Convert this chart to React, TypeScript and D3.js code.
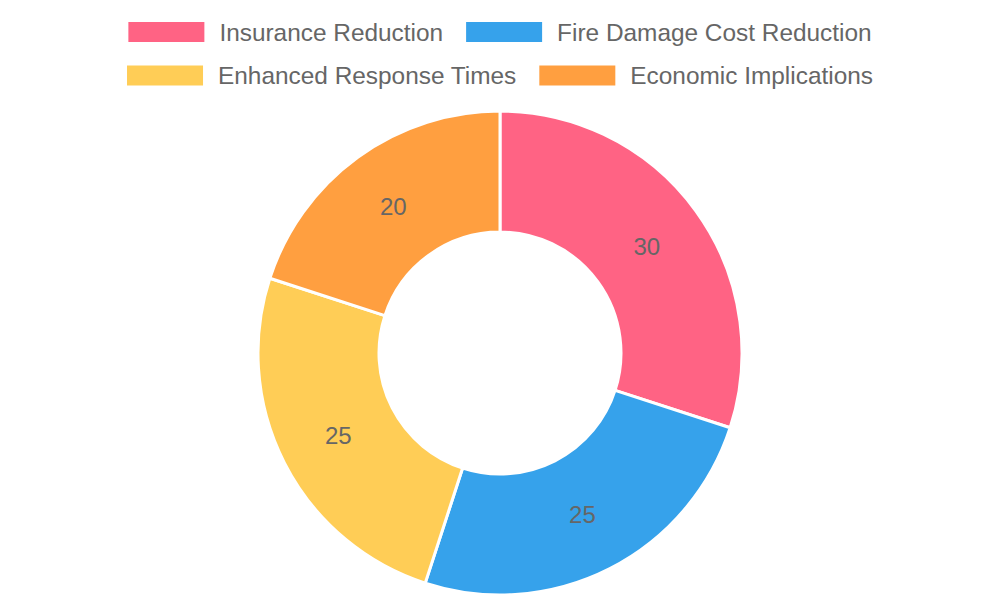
import { useRef, useEffect } from 'react'
import * as d3 from 'd3'

const categories = ['Insurance Reduction', 'Fire Damage Cost Reduction', 'Enhanced Response Times', 'Economic Implications']
const values = [30, 25, 25, 20]
const colors = ['#FF6384', '#36A2EB', '#FFCD56', '#FF9F40']

const W = 1000, H = 600

function App() {
  const ref = useRef<SVGSVGElement>(null)

  useEffect(() => {
    const svg = d3.select(ref.current)
    svg.selectAll('*').remove()
    const font = '"Liberation Sans", Arial, Helvetica, sans-serif'

    // legend: two rows, each centred
    const rows = [[0, 1], [2, 3]]
    const rowY = [32, 75.5]
    const boxW = 76, boxH = 20, gap = 15, pad = 23
    const legend = svg.append('g')
    rows.forEach((row, ri) => {
      const items = row.map(i => {
        const g = legend.append('g')
        g.append('rect').attr('width', boxW).attr('height', boxH).attr('y', rowY[ri] - boxH / 2)
          .attr('fill', colors[i])
        const t = g.append('text').attr('x', boxW + gap).attr('y', rowY[ri]).attr('dy', '0.35em')
          .style('font', `24.4px ${font}`).attr('fill', '#666').text(categories[i])
        const tw = (t.node() as SVGTextElement).getComputedTextLength()
        return { g, w: boxW + gap + tw }
      })
      const total = d3.sum(items, d => d.w) + pad * (items.length - 1)
      let x = (W - total) / 2
      items.forEach(it => {
        it.g.attr('transform', `translate(${x},0)`)
        x += it.w + pad
      })
    })

    // doughnut
    const cx = 500, cy = 353, outer = 242, inner = 121
    const pie = d3.pie<number>().sort(null).value(d => d)
    const arc = d3.arc<d3.PieArcDatum<number>>().innerRadius(inner).outerRadius(outer)
    const g = svg.append('g').attr('transform', `translate(${cx},${cy})`)
    const arcs = pie(values)
    g.selectAll('path').data(arcs).enter().append('path')
      .attr('d', arc)
      .attr('fill', (d, i) => colors[i])
      .attr('stroke', '#fff').attr('stroke-width', 3).attr('stroke-linejoin', 'round')
    g.selectAll('text.val').data(arcs).enter().append('text')
      .attr('class', 'val')
      .attr('transform', d => `translate(${arc.centroid(d)})`)
      .attr('text-anchor', 'middle').attr('dy', '0.35em')
      .style('font', `24px ${font}`).attr('fill', '#666')
      .text(d => d.data)
  }, [])

  return (
    <svg ref={ref} width={W} height={H} style={{ position: 'absolute', left: 0, top: 0 }} />
  )
}

export default App
